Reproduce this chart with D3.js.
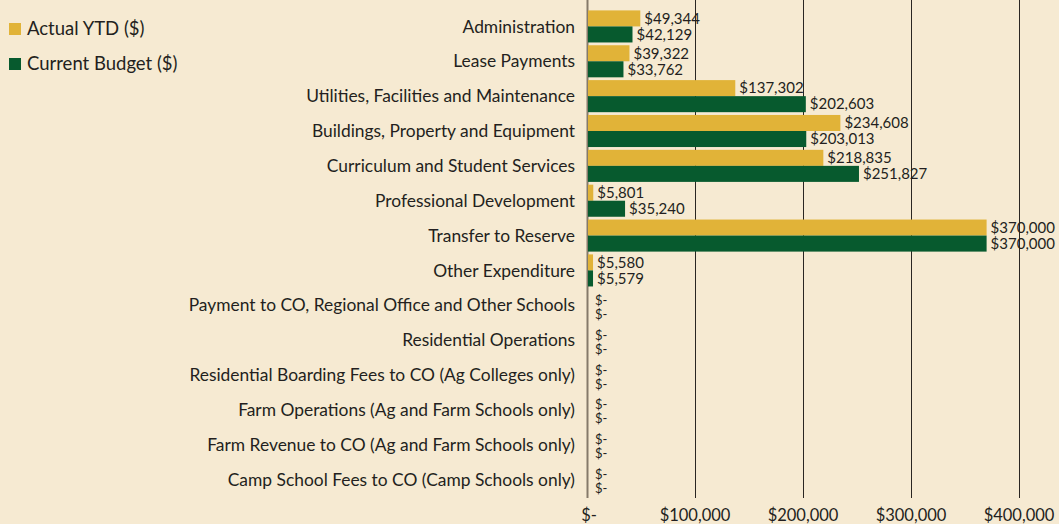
<!DOCTYPE html>
<html>
<head>
<meta charset="utf-8">
<script src="https://cdn.jsdelivr.net/npm/d3@7"></script>
<style>
  html, body { margin: 0; padding: 0; background: #f6ead2; }
  svg { display: block; }
  text { font-family: Lato, "Noto Sans", sans-serif; fill: #231f20; }
</style>
</head>
<body>
<svg id="chart"></svg>
<script>
const categories = [
    "Administration",
    "Lease Payments",
    "Utilities, Facilities and Maintenance",
    "Buildings, Property and Equipment",
    "Curriculum and Student Services",
    "Professional Development",
    "Transfer to Reserve",
    "Other Expenditure",
    "Payment to CO, Regional Office and Other Schools",
    "Residential Operations",
    "Residential Boarding Fees to CO (Ag Colleges only)",
    "Farm Operations (Ag and Farm Schools only)",
    "Farm Revenue to CO (Ag and Farm Schools only)",
    "Camp School Fees to CO (Camp Schools only)"
];
const actualYTD = [49344, 39322, 137302, 234608, 218835, 5801, 370000, 5580, 0, 0, 0, 0, 0, 0];
const currentBudget = [42129, 33762, 202603, 203013, 251827, 35240, 370000, 5579, 0, 0, 0, 0, 0, 0];
const seriesNames = ["Actual YTD ($)", "Current Budget ($)"];
const xTicks = [0, 100000, 200000, 300000, 400000];

const width = 1059;
const height = 524;
const colors = ["#e1b338", "#075a2e"];

const svg = d3.select("#chart")
    .attr("width", width)
    .attr("height", height);

const rows = categories.map((c, i) => ({ category: c, values: [actualYTD[i], currentBudget[i]] }));

const x = d3.scaleLinear()
    .domain([0, 400000])
    .range([587, 1019]);

const y = d3.scaleBand()
    .domain(categories)
    .range([9, 497])
    .paddingInner(0.08)
    .paddingOuter(0.04);

const ySub = d3.scaleBand()
    .domain([0, 1])
    .range([0, y.bandwidth()]);

const fmt = v => v === 0 ? "$-" : "$" + d3.format(",")(v);

// gridlines (zero line is lighter)
svg.append("g")
    .selectAll("line")
    .data(xTicks)
    .join("line")
    .attr("x1", d => Math.round(x(d)) + 0.5)
    .attr("x2", d => Math.round(x(d)) + 0.5)
    .attr("y1", 0)
    .attr("y2", 498)
    .attr("stroke", d => d === 0 ? "#857a6a" : "#2a2622")
    .attr("stroke-width", d => d === 0 ? 2 : 1);

// bars
const groups = svg.append("g")
    .selectAll("g")
    .data(rows)
    .join("g")
    .attr("transform", d => `translate(0,${y(d.category)})`);

groups.selectAll("rect")
    .data(d => d.values)
    .join("rect")
    .attr("x", x(0) + 1)
    .attr("y", (d, i) => ySub(i))
    .attr("width", d => Math.max(0, x(d) - x(0) - 1))
    .attr("height", ySub.bandwidth())
    .attr("fill", (d, i) => colors[i]);

// value labels
groups.selectAll("text")
    .data(d => d.values)
    .join("text")
    .attr("x", d => d === 0 ? x(0) + 8 : x(d) + 4)
    .attr("y", (d, i) => ySub(i) + ySub.bandwidth() / 2 + (d === 0 ? (i === 0 ? 3 : 1) : 0))
    .attr("dy", "0.35em")
    .style("font-size", d => d === 0 ? "13px" : "15px")
    .text(fmt);

// category labels
svg.append("g")
    .selectAll("text")
    .data(categories)
    .join("text")
    .attr("x", 575)
    .attr("y", d => y(d) + y.bandwidth() / 2)
    .attr("dy", "0.35em")
    .attr("text-anchor", "end")
    .style("font-size", "17.4px")
    .text(d => d);

// x tick labels
svg.append("g")
    .selectAll("text")
    .data(xTicks)
    .join("text")
    .attr("x", d => x(d) + (d === 0 ? 2 : 0))
    .attr("y", 515)
    .attr("dy", "0.35em")
    .attr("text-anchor", "middle")
    .style("font-size", "16.5px")
    .text(fmt);

// legend
const legend = svg.append("g")
    .selectAll("g")
    .data(seriesNames)
    .join("g")
    .attr("transform", (d, i) => `translate(9,${29 + i * 35})`);

legend.append("rect")
    .attr("x", 0)
    .attr("y", -6)
    .attr("width", 12)
    .attr("height", 12)
    .attr("fill", (d, i) => colors[i]);

legend.append("text")
    .attr("x", 18)
    .attr("dy", "0.35em")
    .style("font-size", "18.5px")
    .text(d => d);
</script>
</body>
</html>
